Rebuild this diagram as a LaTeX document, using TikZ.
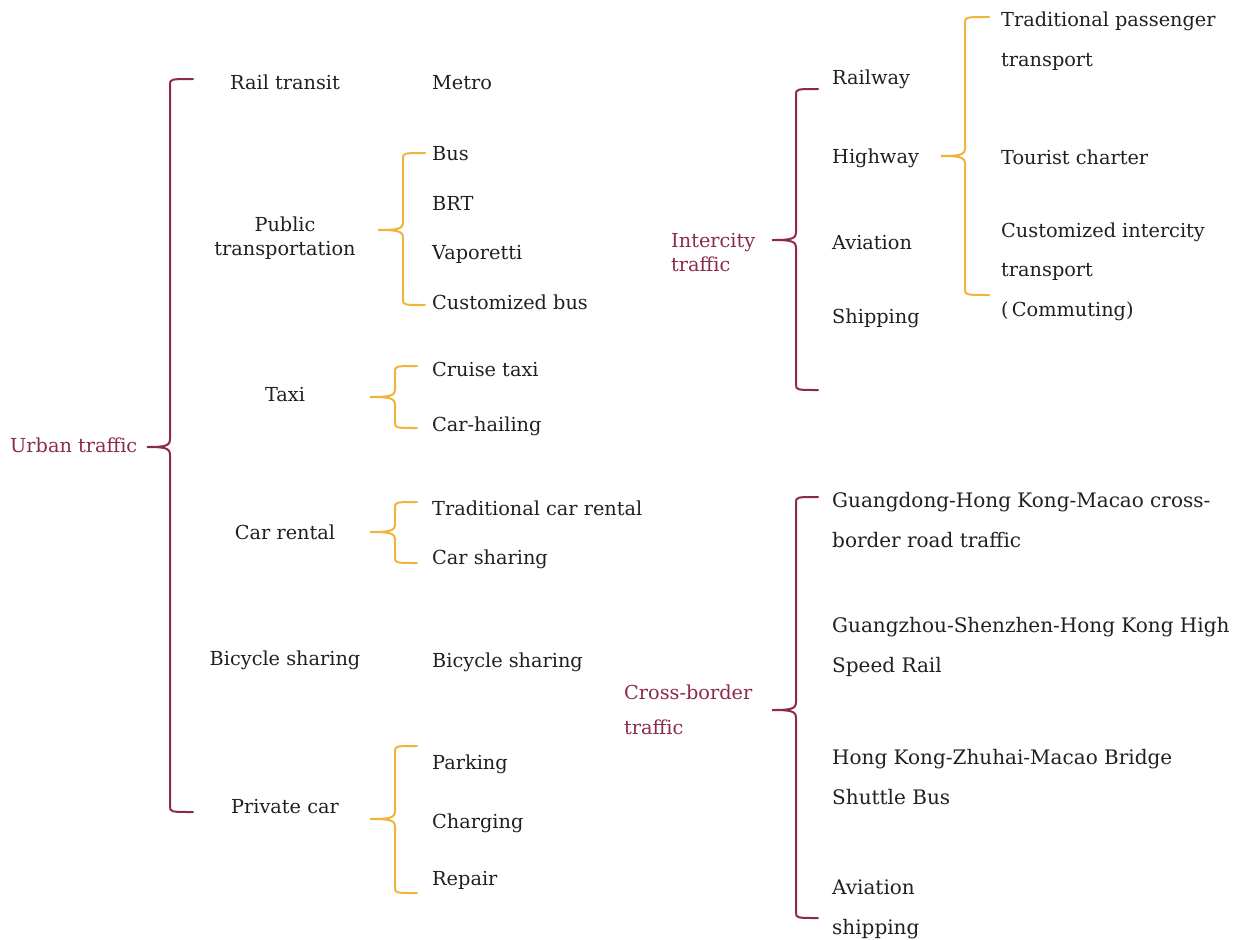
\documentclass[tikz,border=0pt]{standalone}
\usepackage{fontspec}
\setmainfont{DejaVu Serif}
\definecolor{maroon}{HTML}{8B2A4C}
\definecolor{gold}{HTML}{F0B33C}
\definecolor{ink}{HTML}{231F20}
\tikzset{
  lbl/.style={inner sep=0pt, text=ink, font=\fontsize{19.3}{24}\selectfont},
  item/.style={lbl, anchor=base west, align=left},
  cat/.style={lbl, anchor=base, align=center},
  head/.style={lbl, text=maroon, anchor=base west, align=left},
  wide/.style={font=\fontsize{19.3}{39.5}\selectfont},
  xwide/.style={font=\fontsize{20}{39.5}\selectfont},
  bmaroon/.style={draw=maroon, line width=2pt, line cap=round},
  bgold/.style={draw=gold, line width=2pt, line cap=round},
}
% brace: #1 style, #2 name, #3 vx, #4 top y, #5 bottom y, #6 end x, #7 tip x, #8 tip y
\newcommand{\mybrace}[8]{%
  \coordinate (#2) at (#7,#8);
  \coordinate (#2-t) at (#6,#4);
  \coordinate (#2-b) at (#6,#5);
  \draw[#1] (#2-t) .. controls (#3,#4) and (#3,#4) .. (#3,#4+6)
    -- (#3,#8-8) .. controls (#3,#8-1) and (#3-5,#8) .. (#2)
    .. controls (#3-5,#8) and (#3,#8+1) .. (#3,#8+8)
    -- (#3,#5-6) .. controls (#3,#5) and (#3,#5) .. (#2-b);}
\begin{document}
\begin{tikzpicture}[x=1pt,y=-1pt]
\useasboundingbox (0,0) rectangle (1240,940);
% Urban
\node[head] (urban) at (10,452) {Urban traffic};
\mybrace{bmaroon}{ubr}{170}{79}{812}{193}{147}{447}
\node[cat] (rail) at (285,89) {Rail transit};
\node[cat] (pub) at (285,255) {Public\\transportation};
\node[cat] (taxi) at (285,401) {Taxi};
\node[cat] (rent) at (285,539) {Car rental};
\node[cat] (bike) at (285,665) {Bicycle sharing};
\node[cat] (priv) at (285,813) {Private car};
\node[item] (metro) at (432,89) {Metro};
\node[item] (bus) at (432,160) {Bus};
\node[item] (brt) at (432,210) {BRT};
\node[item] (vap) at (432,259) {Vaporetti};
\node[item] (cbus) at (432,309) {Customized bus};
\node[item] (cruise) at (432,376) {Cruise taxi};
\node[item] (hail) at (432,431) {Car-hailing};
\node[item] (trad) at (432,515) {Traditional car rental};
\node[item] (share) at (432,564) {Car sharing};
\node[item] (bike2) at (432,667) {Bicycle sharing};
\node[item] (park) at (432,769) {Parking};
\node[item] (charge) at (432,828) {Charging};
\node[item] (repair) at (432,885) {Repair};
\mybrace{bgold}{pbr}{403}{153}{305}{425}{378}{230}
\mybrace{bgold}{tbr}{395}{366}{428}{417}{370}{397}
\mybrace{bgold}{cbr}{395}{502}{563}{417}{370}{532}
\mybrace{bgold}{vbr}{395}{746}{893}{417}{370}{819}
% Intercity
\node[head] (inter) at (671,271) {Intercity\\traffic};
\mybrace{bmaroon}{ibr}{796}{89}{390}{818}{772}{240}
\node[item] (railway) at (832,84) {Railway};
\node[item] (highway) at (832,163) {Highway};
\node[item] (aviation) at (832,249) {Aviation};
\node[item] (shipping) at (832,323) {Shipping};
\mybrace{bgold}{hbr}{965}{17}{295}{989}{941}{156}
\node[item, wide] (tpt) at (1001,66) {Traditional passenger\\transport};
\node[item] (tour) at (1001,164) {Tourist charter};
\node[item, wide] (cit) at (1001,316) {Customized intercity\\transport\\(\,Commuting)};
% Cross-border
\node[head, font=\fontsize{19.3}{35}\selectfont] (cross) at (624,734) {Cross-border\\traffic};
\mybrace{bmaroon}{xbr}{796}{497}{918}{818}{772}{710}
\node[item, xwide] (gd) at (832,547) {Guangdong-Hong Kong-Macao cross-\\border road traffic};
\node[item, xwide] (gz) at (832,672) {Guangzhou-Shenzhen-Hong Kong High\\Speed Rail};
\node[item, xwide] (hk) at (832,804) {Hong Kong-Zhuhai-Macao Bridge\\Shuttle Bus};
\node[item, xwide] (av) at (832,934) {Aviation\\shipping};
\end{tikzpicture}
\end{document}
